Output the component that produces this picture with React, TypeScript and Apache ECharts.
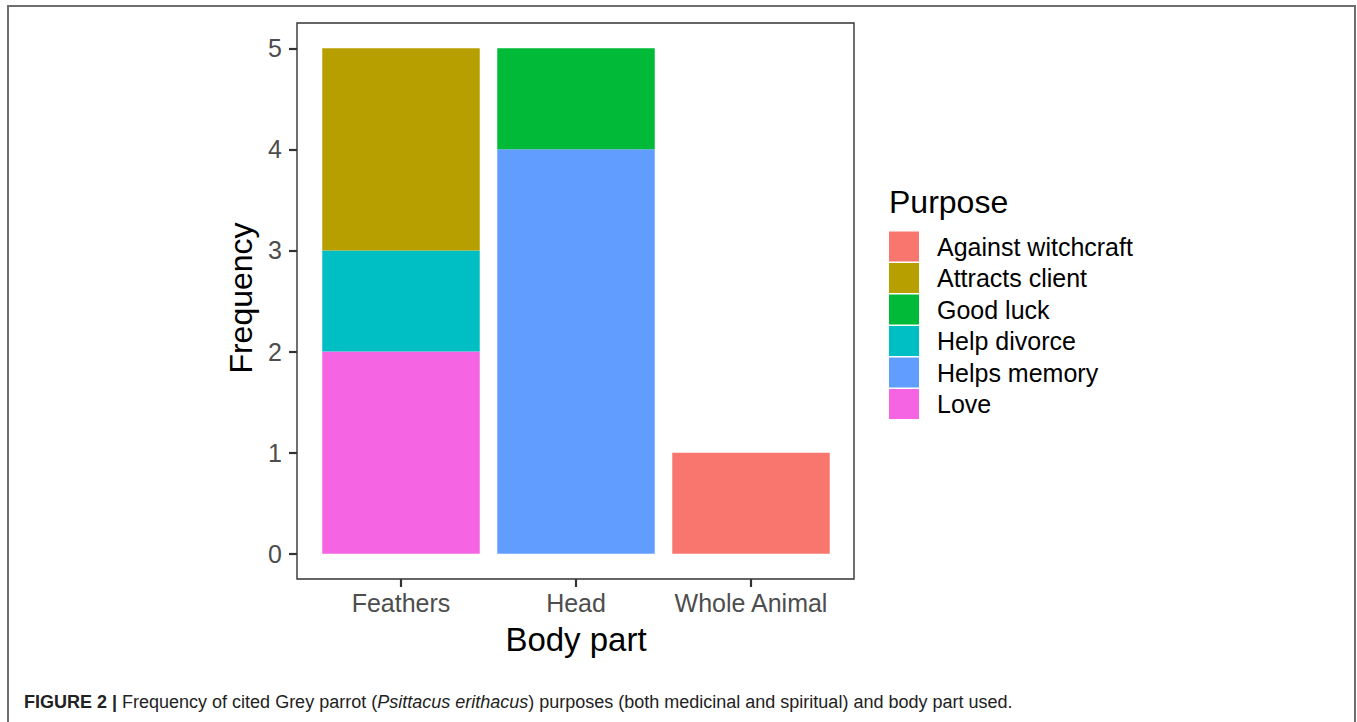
import React, { useEffect, useRef } from "react";
import * as echarts from "echarts";

const categories = ["Feathers", "Head", "Whole Animal"];
const purposes = ["Against witchcraft", "Attracts client", "Good luck", "Help divorce", "Helps memory", "Love"];
const againstWitchcraft = [0, 0, 1];
const attractsClient = [2, 0, 0];
const goodLuck = [0, 1, 0];
const helpDivorce = [1, 0, 0];
const helpsMemory = [0, 4, 0];
const love = [2, 0, 0];
const yTicks = [0, 1, 2, 3, 4, 5];
const colors: Record<string, string> = {
  "Against witchcraft": "#F8766D",
  "Attracts client": "#B79F00",
  "Good luck": "#00BA38",
  "Help divorce": "#00BFC4",
  "Helps memory": "#619CFF",
  "Love": "#F564E3",
};
const valuesByPurpose: Record<string, number[]> = {
  "Against witchcraft": againstWitchcraft,
  "Attracts client": attractsClient,
  "Good luck": goodLuck,
  "Help divorce": helpDivorce,
  "Helps memory": helpsMemory,
  "Love": love,
};

const FONT = "'Liberation Sans', Arial, Helvetica, sans-serif";

export default function App() {
  const ref = useRef<HTMLDivElement>(null);
  useEffect(() => {
    if (!ref.current) return;
    const chart = echarts.init(ref.current, null, { renderer: "svg" });
    const stackOrder = [...purposes].reverse();
    const series = stackOrder.map((p) => ({
      name: p,
      type: "bar",
      stack: "total",
      xAxisIndex: 1,
      yAxisIndex: 1,
      barWidth: "90%",
      itemStyle: { color: colors[p] },
      data: valuesByPurpose[p].map((v) => (v > 0 ? v : "-")),
    }));
    chart.setOption({
      animation: false,
      backgroundColor: "#ffffff",
      textStyle: { fontFamily: FONT },
      grid: [
        {
          left: 297,
          top: 23,
          width: 557,
          height: 556,
          show: true,
          borderColor: "#333333",
          borderWidth: 1.4,
          backgroundColor: "transparent",
        },
        {
          left: 313.5,
          top: 23,
          width: 525,
          height: 556,
          show: false,
        },
      ],
      xAxis: [
        {
          gridIndex: 0,
          type: "value",
          min: 0,
          max: 1,
          show: false,
        },
        {
          gridIndex: 1,
          type: "category",
          data: categories,
          axisLine: { show: false, onZero: false },
          splitLine: { show: false },
          axisTick: {
            show: true,
            alignWithLabel: true,
            interval: 0,
            length: 8,
            lineStyle: { color: "#333333", width: 2.2 },
          },
          axisLabel: {
            interval: 0,
            color: "#4D4D4D",
            fontSize: 25,
            margin: 11,
            fontFamily: FONT,
          },
          name: "Body part",
          nameLocation: "middle",
          nameGap: 44,
          nameTextStyle: { fontSize: 33, color: "#000000", fontFamily: FONT },
        },
      ],
      yAxis: [
        {
          gridIndex: 0,
          type: "value",
          min: -0.25,
          max: 5.25,
          axisLine: { show: false, onZero: false },
          splitLine: { show: false },
          axisTick: {
            show: true,
            length: 8,
            lineStyle: { color: "#333333", width: 2.2 },
            customValues: yTicks,
          },
          axisLabel: {
            customValues: yTicks,
            color: "#4D4D4D",
            fontSize: 25,
            margin: 15,
            fontFamily: FONT,
          },
          name: "Frequency",
          nameLocation: "middle",
          nameGap: 40,
          nameRotate: 90,
          nameTextStyle: { fontSize: 32, color: "#000000", fontFamily: FONT, padding: [0, 0, 0, 6] },
        },
        {
          gridIndex: 1,
          type: "value",
          min: -0.25,
          max: 5.25,
          show: false,
        },
      ],
      title: {
        text: "Purpose",
        left: 889,
        top: 186,
        padding: 0,
        textStyle: { fontSize: 32, fontWeight: "normal", color: "#000000", fontFamily: FONT },
      },
      legend: {
        data: purposes,
        orient: "vertical",
        left: 889,
        top: 231.5,
        padding: 0,
        itemWidth: 30,
        itemHeight: 30,
        itemGap: 1.5,
        icon: "rect",
        textStyle: { fontSize: 25, color: "#000000", padding: [0, 0, 0, 13], fontFamily: FONT },
        selectedMode: false,
      },
      graphic: [
        {
          type: "polyline",
          shape: { points: [[8, 722], [8, 6], [1355, 6], [1355, 722]] },
          style: { stroke: "#6e6e6e", lineWidth: 2, fill: "none" },
          silent: true,
        },
        {
          type: "text",
          left: 24,
          top: 693,
          style: {
            text: "{b|FIGURE 2 |} Frequency of cited Grey parrot ({i|Psittacus erithacus}) purposes (both medicinal and spiritual) and body part used.",
            fontSize: 18,
            fontFamily: FONT,
            fill: "#222222",
            rich: {
              b: { fontWeight: "bold", fontSize: 18, fontFamily: FONT, fill: "#222222" },
              i: { fontStyle: "italic", fontSize: 18, fontFamily: FONT, fill: "#222222" },
            },
          },
        },
      ],
      series,
    });
    return () => chart.dispose();
  }, []);
  return (
    <div
      ref={ref}
      style={{ position: "fixed", left: 0, top: 0, width: 1357, height: 722 }}
    />
  );
}
